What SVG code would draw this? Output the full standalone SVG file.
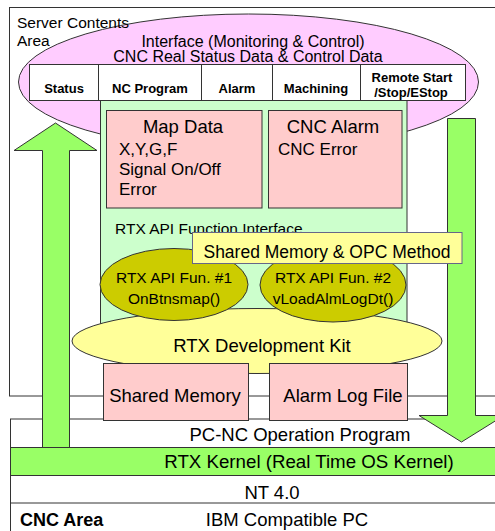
<svg xmlns="http://www.w3.org/2000/svg" width="495" height="531" viewBox="0 0 495 531">
<style>
text{font-family:"Liberation Sans",Arial,sans-serif;fill:#000}
.s{stroke:#333;stroke-width:1}
.t185{font-size:18.5px}
.t17{font-size:17px}
.t16{font-size:16px}
.t155{font-size:15.5px}
.b13{font-size:13px;font-weight:bold}
.m{text-anchor:middle}
.pink{fill:#FFCCCC}
.arrow{fill:#99FF66;stroke:#333;stroke-width:1}
</style>
<rect width="495" height="531" fill="#fff"/>
<g id="server-area">
<rect x="9.5" y="7.5" width="500" height="388.5" fill="#fff" class="s"/>
</g>
<g id="cnc-area">
<rect x="10.5" y="419" width="500" height="120" fill="#fff" class="s"/>
<line x1="10.5" y1="503" x2="500" y2="503" class="s"/>
<text x="300" y="441" class="t185 m">PC-NC Operation Program</text>
<text x="272" y="499" class="t185 m">NT 4.0</text>
<text x="287" y="526" class="t185 m">IBM Compatible PC</text>
<text x="20" y="526" style="font-size:18px;font-weight:bold">CNC Area</text>
</g>
<g id="interface">
<ellipse cx="248.5" cy="82" rx="230" ry="68" fill="#FFCCFF" class="s"/>
<text x="253" y="46.5" class="t16 m">Interface (Monitoring &amp; Control)</text>
<text x="248" y="62" class="t16 m">CNC Real Status Data &amp; Control Data</text>
</g>
<g id="server-label">
<text x="17" y="28" class="t155">Server Contents</text>
<text x="17" y="46" class="t155">Area</text>
</g>
<g id="table">
<rect x="29.5" y="64.5" width="436" height="36" fill="#fff" class="s"/>
<line x1="98.5" y1="64.5" x2="98.5" y2="100.5" class="s"/>
<line x1="201.5" y1="64.5" x2="201.5" y2="100.5" class="s"/>
<line x1="272.5" y1="64.5" x2="272.5" y2="100.5" class="s"/>
<line x1="360.5" y1="64.5" x2="360.5" y2="100.5" class="s"/>
<text x="64" y="92.5" class="b13 m">Status</text>
<text x="150" y="92.5" class="b13 m">NC Program</text>
<text x="237" y="92.5" class="b13 m">Alarm</text>
<text x="316" y="92.5" class="b13 m">Machining</text>
<text x="412" y="81.5" class="b13 m">Remote Start</text>
<text x="411" y="96.5" class="b13 m">/Stop/EStop</text>
</g>
<g id="connectors">
<path class="arrow" d="M42.5,447.5 V150.5 H14 L55.5,123 L97,150.5 H69.5 V447.5 Z"/>
<path class="arrow" d="M447.5,118.5 H475.5 V415.5 H504 L461.5,442 L419,415.5 H447.5 Z"/>
</g>
<g id="rtx-api">
<rect x="100.5" y="100.5" width="306.5" height="240" fill="#CCFFCC" class="s"/>
<text x="115" y="234" class="t155">RTX API Function Interface</text>
</g>
<g id="map-data">
<rect x="106.5" y="110.5" width="155.5" height="97.5" class="pink s"/>
<text x="183" y="133" class="t185 m">Map Data</text>
<text x="119" y="155" class="t17">X,Y,G,F</text>
<text x="119" y="175" class="t17">Signal On/Off</text>
<text x="119" y="195" class="t17">Error</text>
</g>
<g id="cnc-alarm">
<rect x="268.5" y="110.5" width="133.5" height="97.5" class="pink s"/>
<text x="333" y="133" class="t185 m">CNC Alarm</text>
<text x="278" y="155" class="t17">CNC Error</text>
</g>
<g id="dev-kit">
<ellipse cx="257" cy="341" rx="185" ry="32.5" fill="#FFFF99" class="s"/>
<text x="262" y="352" class="t185 m">RTX Development Kit</text>
</g>
<g id="fun1">
<ellipse cx="174" cy="284.5" rx="74" ry="36" fill="#CCCC00" class="s"/>
<text x="174" y="283" class="t155 m">RTX API Fun. #1</text>
<text x="174" y="304" class="t155 m">OnBtnsmap()</text>
</g>
<g id="fun2">
<ellipse cx="333" cy="285" rx="73" ry="37" fill="#CCCC00" class="s"/>
<text x="333" y="283" class="t155 m">RTX API Fun. #2</text>
<text x="333" y="304" class="t155 m">vLoadAlmLogDt()</text>
</g>
<g id="shared-opc">
<rect x="192.5" y="232.5" width="269.5" height="31" fill="#FFFF99" stroke="#666688" stroke-width="1"/>
<text x="327" y="258" style="font-size:17.5px" class="m">Shared Memory &amp; OPC Method</text>
</g>
<g id="shared-memory">
<rect x="103.5" y="363.5" width="145" height="57" class="pink s"/>
<text x="175" y="402" class="t185 m">Shared Memory</text>
</g>
<g id="alarm-log">
<rect x="269.5" y="363.5" width="138" height="57" class="pink s"/>
<text x="343" y="402" class="t185 m">Alarm Log File</text>
</g>
<g id="rtx-kernel">
<rect x="10.5" y="447.5" width="500" height="28" class="arrow"/>
<text x="309" y="468" style="font-size:18.7px" class="m">RTX Kernel (Real Time OS Kernel)</text>
</g>
</svg>
